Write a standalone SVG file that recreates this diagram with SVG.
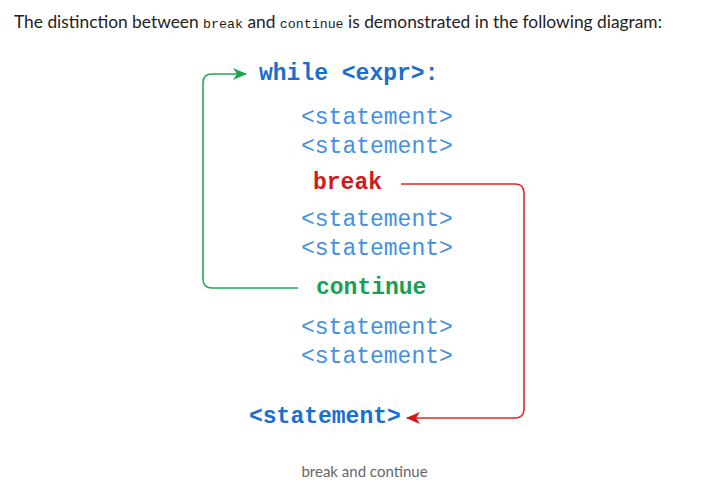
<svg xmlns="http://www.w3.org/2000/svg" width="728" height="499" viewBox="0 0 728 499">
<style>
.hdr{font-family:Lato,"Open Sans",sans-serif;font-size:17px;fill:#222}
.hc{font-family:"Liberation Mono",monospace;font-size:13px;fill:#222}
.code{font-family:"Liberation Mono","Courier New",monospace;font-size:23px}
.b{font-weight:bold}
.kw{fill:#1a6ed0}
.st{fill:#4390e2}
.br{fill:#d11b1b}
.ct{fill:#16a04f}
.cap{font-family:Lato,"Open Sans",sans-serif;font-size:15px;fill:#666}
.g{fill:none;stroke:#22a85a;stroke-width:1.6}
.r{fill:none;stroke:#dd2a2a;stroke-width:1.6}
</style>
<defs>
<marker id="ag" markerWidth="14" markerHeight="12" refX="13" refY="6" orient="auto" markerUnits="userSpaceOnUse"><path d="M0,0 L14,6 L0,12 L4,6 Z" fill="#1fa552"/></marker>
<marker id="ar" markerWidth="14" markerHeight="12" refX="13" refY="6" orient="auto" markerUnits="userSpaceOnUse"><path d="M0,0 L14,6 L0,12 L4,6 Z" fill="#d4141a"/></marker>
</defs>
<rect width="728" height="499" fill="#ffffff"/>
<text class="hdr" x="14" y="28" textLength="648" lengthAdjust="spacingAndGlyphs">The distinction between <tspan class="hc">break</tspan> and <tspan class="hc">continue</tspan> is demonstrated in the following diagram:</text>
<g id="connectors">
<path class="g" d="M298,288 H212 Q203,288 203,279 V83 Q203,74 212,74 H246" marker-end="url(#ag)"/>
<path class="r" d="M401,184 H515 Q524,184 524,193 V409 Q524,418 515,418 H407" marker-end="url(#ar)"/>
</g>
<g id="n-while"><text class="code b kw" x="259" y="80">while &lt;expr&gt;:</text></g>
<g id="n-s1"><text class="code st" x="301" y="124">&lt;statement&gt;</text></g>
<g id="n-s2"><text class="code st" x="301" y="153">&lt;statement&gt;</text></g>
<g id="n-break"><text class="code b br" x="313" y="189">break</text></g>
<g id="n-s3"><text class="code st" x="301" y="226">&lt;statement&gt;</text></g>
<g id="n-s4"><text class="code st" x="301" y="255">&lt;statement&gt;</text></g>
<g id="n-continue"><text class="code b ct" x="316" y="294">continue</text></g>
<g id="n-s5"><text class="code st" x="301" y="334">&lt;statement&gt;</text></g>
<g id="n-s6"><text class="code st" x="301" y="363">&lt;statement&gt;</text></g>
<g id="n-after"><text class="code b kw" x="249" y="423">&lt;statement&gt;</text></g>
<text class="cap" x="364.5" y="477" text-anchor="middle">break and continue</text>
</svg>
